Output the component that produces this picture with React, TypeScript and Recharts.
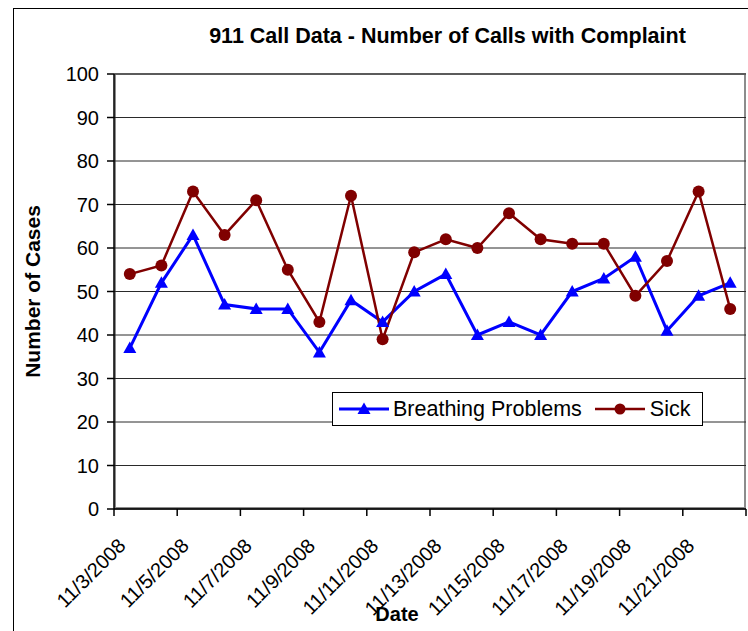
import React from 'react';
import { LineChart, Line, XAxis, YAxis, CartesianGrid, Legend } from 'recharts';

const dates = [
  '11/3/2008', '11/4/2008', '11/5/2008', '11/6/2008', '11/7/2008',
  '11/8/2008', '11/9/2008', '11/10/2008', '11/11/2008', '11/12/2008',
  '11/13/2008', '11/14/2008', '11/15/2008', '11/16/2008', '11/17/2008',
  '11/18/2008', '11/19/2008', '11/20/2008', '11/21/2008', '11/22/2008',
];
const breathing = [37, 52, 63, 47, 46, 46, 36, 48, 43, 50, 54, 40, 43, 40, 50, 53, 58, 41, 49, 52];
const sick = [54, 56, 73, 63, 71, 55, 43, 72, 39, 59, 62, 60, 68, 62, 61, 61, 49, 57, 73, 46];
const yTicks = [0, 10, 20, 30, 40, 50, 60, 70, 80, 90, 100];

const data = dates.map((d, i) => ({ date: d, breathing: breathing[i], sick: sick[i] }));

const FONT = '"Liberation Sans", Arial, sans-serif';
const W = 748;
const H = 631;
const PLOT_LEFT = 114;
const PLOT_RIGHT = 746;
const PLOT_TOP = 74;
const PLOT_BOTTOM = 509;
const STEP = (PLOT_RIGHT - PLOT_LEFT) / dates.length;
const BLUE = '#0000FF';
const RED = '#800000';

function DateTick(props: any) {
  const { x, y, payload } = props;
  const ax = x - 3;
  const ay = y + 38;
  return (
    <g>
      <line x1={x - STEP / 2} x2={x - STEP / 2} y1={y} y2={y + 7} stroke="#000" strokeWidth={1.5} />
      {payload.index === dates.length - 2 && (
        <line x1={x + STEP * 1.5} x2={x + STEP * 1.5} y1={y} y2={y + 7} stroke="#000" strokeWidth={1.5} />
      )}
      <text x={ax} y={ay} textAnchor="end" fontSize={20} fontFamily={FONT} fill="#000"
        transform={`rotate(-45 ${ax} ${ay})`}>
        {payload.value}
      </text>
    </g>
  );
}

function Triangle(props: any) {
  const { cx, cy, index } = props;
  if (cx == null || cy == null) return <g key={index} />;
  return <polygon key={index} points={`${cx},${cy - 6.5} ${cx - 6.5},${cy + 5} ${cx + 6.5},${cy + 5}`} fill={BLUE} />;
}

function Circle(props: any) {
  const { cx, cy, index } = props;
  if (cx == null || cy == null) return <g key={index} />;
  return <circle key={index} cx={cx} cy={cy} r={6} fill={RED} />;
}

function LegendBox() {
  return (
    <div style={{
      boxSizing: 'border-box', width: '100%', height: '100%', background: '#fff',
      border: '1.5px solid #000', display: 'flex', alignItems: 'center',
      fontFamily: FONT, fontSize: 21.5, color: '#000', paddingLeft: 5,
    }}>
      <svg width={52} height={20} style={{ marginRight: 3 }}>
        <line x1={1} x2={51} y1={10} y2={10} stroke={BLUE} strokeWidth={3} />
        <polygon points="26,3.5 19.5,15 32.5,15" fill={BLUE} />
      </svg>
      <span>Breathing Problems</span>
      <svg width={52} height={20} style={{ marginLeft: 12, marginRight: 4 }}>
        <line x1={1} x2={51} y1={10} y2={10} stroke={RED} strokeWidth={2.5} />
        <circle cx={26} cy={10} r={5.5} fill={RED} />
      </svg>
      <span>Sick</span>
    </div>
  );
}

export default function App() {
  return (
    <div style={{ position: 'absolute', left: 0, top: 0, width: W, height: H, overflow: 'hidden', background: '#fff' }}>
      <div style={{ position: 'absolute', left: 13, top: 8, width: 900, height: 900, border: '1.5px solid #000' }} />
      <div style={{
        position: 'absolute', left: PLOT_LEFT, top: PLOT_TOP - 1, width: PLOT_RIGHT - PLOT_LEFT,
        height: PLOT_BOTTOM - PLOT_TOP + 1, border: '2px solid #8c8c8c', boxSizing: 'border-box',
      }} />
      <svg width={W} height={60} style={{ position: 'absolute', left: 0, top: 0 }}>
        <text x={447.5} y={43} textAnchor="middle" fontSize={21.5} fontWeight="bold" fontFamily={FONT}>
          911 Call Data - Number of Calls with Complaint
        </text>
      </svg>
      <div style={{ position: 'absolute', left: 0, top: 0 }}>
        <LineChart width={W} height={H} data={data}
          margin={{ top: PLOT_TOP, right: W - PLOT_RIGHT, left: PLOT_LEFT - 60, bottom: H - PLOT_BOTTOM - 40 }}>
          <CartesianGrid vertical={false} stroke="#2a2a2a" strokeWidth={1} />
          <XAxis dataKey="date" interval={1} tickSize={0} tickMargin={0} tickLine={false}
            height={40} padding={{ left: STEP / 2, right: STEP / 2 }}
            axisLine={{ stroke: '#000', strokeWidth: 1.5 }} tick={<DateTick />}
            label={{
              content: () => (
                <text x={397} y={621} textAnchor="middle" fontSize={20} fontWeight="bold" fontFamily={FONT}>Date</text>
              ),
            }} />
          <YAxis domain={[0, 100]} ticks={yTicks} width={60} tickSize={7} tickMargin={8}
            axisLine={{ stroke: '#000', strokeWidth: 1.5 }} tickLine={{ stroke: '#000', strokeWidth: 1.5 }}
            tick={{ fontSize: 20, fontFamily: FONT, fill: '#000' }}
            label={{
              content: () => (
                <text x={39.5} y={291.5} textAnchor="middle" fontSize={21} fontWeight="bold" fontFamily={FONT}
                  transform="rotate(-90 39.5 291.5)">Number of Cases</text>
              ),
            }} />
          <Line type="linear" dataKey="breathing" name="Breathing Problems" stroke={BLUE} strokeWidth={3}
            dot={Triangle} isAnimationActive={false} />
          <Line type="linear" dataKey="sick" name="Sick" stroke={RED} strokeWidth={2.5}
            dot={Circle} isAnimationActive={false} />
          <Legend layout="horizontal" verticalAlign="middle" align="center"
            wrapperStyle={{ position: 'absolute', left: 332, top: 392, width: 371, height: 34 }}
            content={() => <LegendBox />} />
        </LineChart>
      </div>
    </div>
  );
}
